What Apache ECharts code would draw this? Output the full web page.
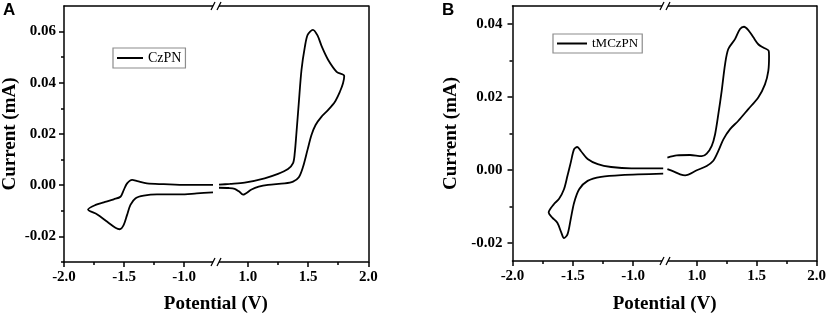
<!DOCTYPE html>
<html>
<head>
<meta charset="utf-8">
<script src="https://cdn.jsdelivr.net/npm/echarts@6/dist/echarts.min.js"></script>
<style>
html, body { margin: 0; padding: 0; background: #fff; }
#main { width: 829px; height: 318px; }
</style>
</head>
<body>
<div id="main"></div>
<script>
// panel A, CzPN: left of the break (upper branch to vertex, then lower branch back)
var czpnLeftV = [-0.76, -0.98, -1.17, -1.31, -1.39, -1.433, -1.475, -1.503, -1.53, -1.586, -1.669, -1.737, -1.80,
                 -1.723, -1.64, -1.572, -1.536, -1.503, -1.475, -1.447, -1.404, -1.337, -1.226, -1.033, -0.895, -0.76];
var czpnLeftI = [0.0001, 0.0001, 0.0004, 0.0007, 0.0016, 0.0021, 0.0007, -0.0019, -0.0045, -0.0055, -0.0067, -0.0077, -0.0095,
                 -0.0114, -0.0143, -0.0166, -0.0172, -0.0155, -0.0116, -0.0077, -0.0051, -0.0041, -0.0036, -0.0036, -0.0032, -0.0028];
// panel A, CzPN: right of the break
var czpnRightV = [0.76, 0.85, 0.973, 1.139, 1.25, 1.333, 1.375, 1.389, 1.403, 1.4225, 1.445, 1.473, 1.497, 1.54, 1.578, 1.615, 1.667, 1.737, 1.80,
                  1.79, 1.764, 1.723, 1.667, 1.612, 1.562, 1.528, 1.495, 1.458, 1.423, 1.375, 1.306, 1.167, 1.09, 1.03, 0.96, 0.925, 0.89, 0.84, 0.76];
var czpnRightI = [0.0002, 0.0005, 0.001, 0.0027, 0.0044, 0.0063, 0.0086, 0.0125, 0.0203, 0.032, 0.045, 0.054, 0.0588, 0.0607, 0.0585, 0.054, 0.0489, 0.0443, 0.0427,
                  0.0398, 0.0365, 0.0326, 0.0294, 0.0268, 0.0235, 0.0196, 0.0138, 0.0072, 0.0031, 0.0014, 0.0007, 0.0001, -0.0006, -0.0017, -0.0037, -0.0024, -0.0014, -0.0011, -0.001];

// panel B, tMCzPN: left of the break
var tmczpnLeftV = [-0.75, -1.014, -1.182, -1.293, -1.377, -1.433, -1.463, -1.489, -1.517, -1.544, -1.573, -1.615, -1.657, -1.70,
                   -1.67, -1.628, -1.595, -1.573, -1.544, -1.517, -1.489, -1.447, -1.377, -1.265, -1.098, -0.75];
var tmczpnLeftI = [0.0004, 0.0004, 0.0008, 0.0016, 0.003, 0.0052, 0.0063, 0.0057, 0.002, -0.0016, -0.0053, -0.008, -0.0094, -0.0117,
                   -0.0131, -0.0145, -0.0172, -0.0187, -0.0177, -0.0135, -0.009, -0.0053, -0.003, -0.0019, -0.0014, -0.001];
// panel B, tMCzPN: right of the break
var tmczpnRightV = [0.755, 0.833, 0.944, 1.042, 1.083, 1.125, 1.153, 1.18, 1.208, 1.236, 1.263, 1.319, 1.361, 1.394, 1.43, 1.472, 1.513, 1.555, 1.60,
                    1.603, 1.597, 1.569, 1.513, 1.43, 1.347, 1.278, 1.222, 1.18, 1.138, 1.083, 1.0, 0.903, 0.861, 0.805, 0.755];
var tmczpnRightI = [0.0034, 0.004, 0.0041, 0.0038, 0.0045, 0.0066, 0.0098, 0.0153, 0.0217, 0.029, 0.0332, 0.0359, 0.0387, 0.0393, 0.0384, 0.0364, 0.0345, 0.0336, 0.0327,
                    0.0313, 0.0272, 0.0235, 0.0199, 0.0167, 0.0135, 0.0112, 0.0084, 0.0052, 0.0025, 0.0011, -0.0001, -0.0015, -0.0012, -0.0004, 0.0002];

// axis ticks
var xLeftMajor = [-2.0, -1.5, -1.0];
var xLeftMinor = [-1.75, -1.25];
var xRightMajor = [1.0, 1.5, 2.0];
var xRightMinor = [1.25, 1.75];
var yMajorA = [-0.02, 0.0, 0.02, 0.04, 0.06];
var yMinorA = [-0.03, -0.01, 0.01, 0.03, 0.05];
var yMajorB = [-0.02, 0.0, 0.02, 0.04];
var yMinorB = [-0.01, 0.01, 0.03];

var serif = '"Liberation Serif", "Times New Roman", serif';
var breakLo = -0.735, breakHi = 0.735;

var panels = [
    { letter: 'A', letterX: 3, name: 'CzPN', left: 63.3, brk: 216, right: 368.3, top: 6, bottom: 262,
      ymin: -0.03, ymax: 0.07, yMajor: yMajorA, yMinor: yMinorA, labelMargin: 8, nameGap: 44,
      lv: czpnLeftV, li: czpnLeftI, rv: czpnRightV, ri: czpnRightI,
      legend: { left: 113, top: 48, itemWidth: 26, fontSize: 14 } },
    { letter: 'B', letterX: 442, name: 'tMCzPN', left: 512.5, brk: 665, right: 816.8, top: 6, bottom: 261,
      ymin: -0.025, ymax: 0.045, yMajor: yMajorB, yMinor: yMinorB, labelMargin: 10, nameGap: 52,
      lv: tmczpnLeftV, li: tmczpnLeftI, rv: tmczpnRightV, ri: tmczpnRightI,
      legend: { left: 553, top: 34, itemWidth: 30, fontSize: 13 } }
];

function pairs(xs, ys) {
    return xs.map(function (x, i) { return [x, ys[i]]; });
}

var lineStyle = { color: '#000', width: 1.5 };
var labelStyle = { color: '#000', fontFamily: serif, fontWeight: 'bold', fontSize: 15 };

var grids = [], xAxes = [], yAxes = [], series = [], legends = [], graphics = [];

function xAxis(grid, min, max, pos, ticks, minor, labels) {
    xAxes.push({
        type: 'value', gridIndex: grid, min: min, max: max, position: pos,
        axisLine: { show: !minor, onZero: false, lineStyle: lineStyle },
        axisTick: { show: !!ticks, customValues: ticks || [], length: minor ? 3 : 5, lineStyle: lineStyle },
        axisLabel: labels ? { customValues: ticks, margin: 8, formatter: function (v) { return v.toFixed(1); }, textStyle: labelStyle } : { show: false },
        splitLine: { show: false }
    });
    return xAxes.length - 1;
}

function yAxis(grid, p, pos, ticks, minor, labels) {
    var ax = {
        type: 'value', gridIndex: grid, min: p.ymin, max: p.ymax, position: pos,
        axisLine: { show: !minor, onZero: false, lineStyle: lineStyle },
        axisTick: { show: !!ticks, customValues: ticks || [], length: minor ? 3 : 5, lineStyle: lineStyle },
        axisLabel: labels ? { customValues: ticks, margin: p.labelMargin, formatter: function (v) { return v.toFixed(2); }, textStyle: labelStyle } : { show: false },
        splitLine: { show: false }
    };
    if (labels) {
        ax.name = 'Current (mA)';
        ax.nameLocation = 'middle';
        ax.nameRotate = 90;
        ax.nameGap = p.nameGap;
        ax.nameTextStyle = { color: '#000', fontFamily: serif, fontWeight: 'bold', fontSize: 19 };
    }
    yAxes.push(ax);
    return yAxes.length - 1;
}

panels.forEach(function (p) {
    var h = p.bottom - p.top;
    grids.push({ left: p.left, top: p.top, width: p.brk - p.left, height: h });
    var gl = grids.length - 1;
    grids.push({ left: p.brk, top: p.top, width: p.right - p.brk, height: h });
    var gr = grids.length - 1;

    var xl = xAxis(gl, -2.0, breakLo, 'bottom', xLeftMajor, false, true);
    xAxis(gl, -2.0, breakLo, 'bottom', xLeftMinor, true, false);
    xAxis(gl, -2.0, breakLo, 'top', null, false, false);
    var xr = xAxis(gr, breakHi, 2.0, 'bottom', xRightMajor, false, true);
    xAxis(gr, breakHi, 2.0, 'bottom', xRightMinor, true, false);
    xAxis(gr, breakHi, 2.0, 'top', null, false, false);

    var yl = yAxis(gl, p, 'left', p.yMajor, false, true);
    yAxis(gl, p, 'left', p.yMinor, true, false);
    var yr = yAxis(gr, p, 'right', null, false, false);

    var common = { type: 'line', name: p.name, symbol: 'none', smooth: 0.3, animation: false,
                   lineStyle: { color: '#000', width: 1.8 }, itemStyle: { color: '#000' } };
    series.push(Object.assign({ xAxisIndex: xl, yAxisIndex: yl, data: pairs(p.lv, p.li) }, common));
    series.push(Object.assign({ xAxisIndex: xr, yAxisIndex: yr, data: pairs(p.rv, p.ri) }, common));

    legends.push({
        data: [p.name], left: p.legend.left, top: p.legend.top, selectedMode: false,
        icon: 'rect', itemWidth: p.legend.itemWidth, itemHeight: 2,
        padding: [3, 4, 3, 4], borderColor: '#8c8c8c', borderWidth: 1.2, backgroundColor: '#fff',
        textStyle: { color: '#000', fontFamily: serif, fontSize: p.legend.fontSize }
    });

    // axis break marks "//" at top and bottom
    [p.top, p.bottom].forEach(function (y) {
        graphics.push({ type: 'rect', shape: { x: p.brk - 3, y: y - 2, width: 6, height: 4 }, style: { fill: '#fff' }, z: 100 });
        graphics.push({ type: 'line', shape: { x1: p.brk - 5, y1: y + 4, x2: p.brk - 1, y2: y - 4 }, style: { stroke: '#000', lineWidth: 1.3 }, z: 101 });
        graphics.push({ type: 'line', shape: { x1: p.brk + 1, y1: y + 4, x2: p.brk + 5, y2: y - 4 }, style: { stroke: '#000', lineWidth: 1.3 }, z: 101 });
    });

    graphics.push({ type: 'text', x: (p.left + p.right) / 2, y: 295, z: 100,
        style: { text: 'Potential (V)', font: 'bold 19px ' + serif, fill: '#000', textAlign: 'center', textVerticalAlign: 'top' } });
    graphics.push({ type: 'text', x: p.letterX, y: 2, z: 100,
        style: { text: p.letter, font: 'bold 17px "Liberation Sans", Arial, sans-serif', fill: '#000' } });
});

var chart = echarts.init(document.getElementById('main'));
chart.setOption({
    animation: false,
    backgroundColor: '#fff',
    grid: grids,
    xAxis: xAxes,
    yAxis: yAxes,
    legend: legends,
    series: series,
    graphic: graphics
});
</script>
</body>
</html>
